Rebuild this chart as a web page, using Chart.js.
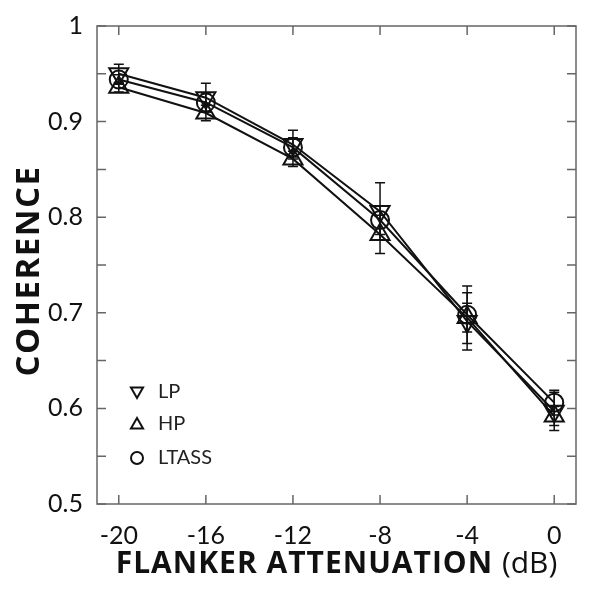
<!DOCTYPE html>
<html>
<head>
<meta charset="utf-8">
<script src="https://cdn.jsdelivr.net/npm/chart.js@4"></script>
<style>
    html, body { margin: 0; padding: 0; background: #fff; }
    #wrap { width: 600px; height: 595px; }
</style>
</head>
<body>
<div id="wrap"><canvas id="coherenceChart" width="600" height="595"></canvas></div>
<script>
// Dữ liệu
const attenuation = [-20, -16, -12, -8, -4, 0];
const lpValues    = [0.950, 0.925, 0.876, 0.806, 0.691, 0.597];
const hpValues    = [0.936, 0.909, 0.861, 0.782, 0.695, 0.592];
const ltassValues = [0.944, 0.920, 0.873, 0.797, 0.698, 0.606];
const lpErrors    = [0.010, 0.015, 0.015, 0.030, 0.030, 0.020];
const hpErrors    = [0.005, 0.008, 0.008, 0.020, 0.015, 0.010];
const ltassErrors = [0.005, 0.010, 0.010, 0.015, 0.030, 0.013];
const xTicks = [-20, -16, -12, -8, -4, 0];
const yTicks = [0.5, 0.55, 0.6, 0.65, 0.7, 0.75, 0.8, 0.85, 0.9, 0.95, 1];
const seriesNames = ['LP', 'HP', 'LTASS'];

const FONT = 'Lato, "Open Sans", sans-serif';
const TITLE_FONT = '"Open Sans", Lato, sans-serif';
const INK = '#111';
const FRAME = '#666';

function toPoints(values) {
    return attenuation.map((x, i) => ({ x: x, y: values[i] }));
}

// Vẽ thanh sai số
const errorBarPlugin = {
    id: 'errorBars',
    beforeDatasetsDraw(chart) {
        const ctx = chart.ctx;
        const xs = chart.scales.x, ys = chart.scales.y;
        const errs = [lpErrors, hpErrors, ltassErrors];
        const vals = [lpValues, hpValues, ltassValues];
        ctx.save();
        ctx.strokeStyle = INK;
        ctx.lineWidth = 1.5;
        vals.forEach((v, s) => {
            attenuation.forEach((x, i) => {
                const px = xs.getPixelForValue(x);
                const top = ys.getPixelForValue(v[i] + errs[s][i]);
                const bot = ys.getPixelForValue(v[i] - errs[s][i]);
                ctx.beginPath();
                ctx.moveTo(px, top); ctx.lineTo(px, bot);
                ctx.moveTo(px - 5, top); ctx.lineTo(px + 5, top);
                ctx.moveTo(px - 5, bot); ctx.lineTo(px + 5, bot);
                ctx.stroke();
            });
        });
        ctx.restore();
    }
};

// Khung, vạch chia hướng vào trong, tiêu đề trục và chú thích
const framePlugin = {
    id: 'frameAndLabels',
    afterDraw(chart) {
        const ctx = chart.ctx;
        const a = chart.chartArea;
        const xs = chart.scales.x, ys = chart.scales.y;
        ctx.save();
        ctx.strokeStyle = FRAME;
        ctx.lineWidth = 1.5;
        ctx.strokeRect(a.left, a.top, a.right - a.left, a.bottom - a.top);
        ctx.beginPath();
        yTicks.forEach(v => {
            const py = ys.getPixelForValue(v);
            ctx.moveTo(a.left, py); ctx.lineTo(a.left + 9, py);
            ctx.moveTo(a.right, py); ctx.lineTo(a.right - 9, py);
        });
        xTicks.forEach(v => {
            const px = xs.getPixelForValue(v);
            ctx.moveTo(px, a.bottom); ctx.lineTo(px, a.bottom - 9);
            ctx.moveTo(px, a.top); ctx.lineTo(px, a.top + 9);
        });
        ctx.stroke();

        // Tiêu đề trục y
        ctx.fillStyle = INK;
        ctx.save();
        ctx.translate(30, (a.top + a.bottom) / 2 + 6);
        ctx.rotate(-Math.PI / 2);
        ctx.font = 'bold 33px ' + TITLE_FONT;
        ctx.letterSpacing = '1.5px';
        ctx.textAlign = 'center';
        ctx.textBaseline = 'middle';
        ctx.fillText('COHERENCE', 0, 0);
        ctx.restore();

        // Tiêu đề trục x: phần đậm + "(dB)"
        const boldPart = 'FLANKER ATTENUATION ';
        const normPart = '(dB)';
        ctx.letterSpacing = '1px';
        ctx.font = 'bold 30px ' + TITLE_FONT;
        const w1 = ctx.measureText(boldPart).width;
        ctx.letterSpacing = '0px';
        ctx.font = '30px ' + TITLE_FONT;
        const w2 = ctx.measureText(normPart).width;
        const cx = (a.left + a.right) / 2;
        let sx = cx - (w1 + w2) / 2;
        ctx.textBaseline = 'alphabetic';
        ctx.textAlign = 'left';
        ctx.letterSpacing = '1px';
        ctx.font = 'bold 30px ' + TITLE_FONT;
        ctx.fillText(boldPart, sx, 573);
        ctx.letterSpacing = '0px';
        ctx.font = '30px ' + TITLE_FONT;
        ctx.fillText(normPart, sx + w1, 573);

        // Chú thích (ký hiệu rỗng)
        const styles = [
            { style: 'triangle', rot: 180, r: 7 },
            { style: 'triangle', rot: 0, r: 7 },
            { style: 'circle', rot: 0, r: 6 }
        ];
        const legendY = [392, 424, 458];
        ctx.lineWidth = 2;
        ctx.strokeStyle = INK;
        ctx.textBaseline = 'middle';
        seriesNames.forEach((name, i) => {
            ctx.fillStyle = 'rgba(0,0,0,0)';
            Chart.helpers.drawPoint(ctx, {
                pointStyle: styles[i].style,
                rotation: styles[i].rot,
                radius: styles[i].r,
                borderWidth: 2
            }, 137, legendY[i] + (styles[i].style === 'triangle' ? (styles[i].rot ? -1 : 1) : 0));
            ctx.fillStyle = '#222';
            ctx.font = '20px ' + FONT;
            ctx.fillText(name, 158, legendY[i]);
        });
        ctx.restore();
    }
};

const commonSeries = {
    borderColor: INK,
    borderWidth: 2,
    backgroundColor: 'rgba(0,0,0,0)',
    pointBorderColor: INK,
    pointBackgroundColor: 'rgba(0,0,0,0)',
    pointBorderWidth: 2,
    tension: 0,
    fill: false
};

new Chart(document.getElementById('coherenceChart').getContext('2d'), {
    type: 'line',
    data: {
        datasets: [
            Object.assign({ label: seriesNames[0], data: toPoints(lpValues),
                pointStyle: 'triangle', rotation: 180, pointRadius: 11 }, commonSeries),
            Object.assign({ label: seriesNames[1], data: toPoints(hpValues),
                pointStyle: 'triangle', rotation: 0, pointRadius: 11 }, commonSeries),
            Object.assign({ label: seriesNames[2], data: toPoints(ltassValues),
                pointStyle: 'circle', pointRadius: 9 }, commonSeries)
        ]
    },
    options: {
        responsive: false,
        animation: false,
        layout: { padding: { left: 0, top: 26, right: 24, bottom: 0 } },
        plugins: {
            legend: { display: false },
            tooltip: { enabled: false }
        },
        scales: {
            x: {
                type: 'linear',
                min: -21,
                max: 1,
                afterBuildTicks: s => { s.ticks = xTicks.map(v => ({ value: v })); },
                afterFit: s => { s.height = 91; },
                grid: { display: false },
                border: { display: false },
                ticks: {
                    autoSkip: false,
                    maxRotation: 0,
                    padding: 9,
                    color: INK,
                    font: { family: FONT, size: 25 },
                    callback: v => String(v)
                }
            },
            y: {
                type: 'linear',
                min: 0.5,
                max: 1,
                afterBuildTicks: s => { s.ticks = yTicks.map(v => ({ value: v })); },
                afterFit: s => { s.width = 97; },
                grid: { display: false },
                border: { display: false },
                ticks: {
                    autoSkip: false,
                    padding: 6,
                    color: INK,
                    font: { family: FONT, size: 25 },
                    callback: v => {
                        if (Math.round(v * 100) % 10 !== 0) return '';
                        return v === 1 ? '1' : v.toFixed(1);
                    }
                }
            }
        }
    },
    plugins: [errorBarPlugin, framePlugin]
});
</script>
</body>
</html>
